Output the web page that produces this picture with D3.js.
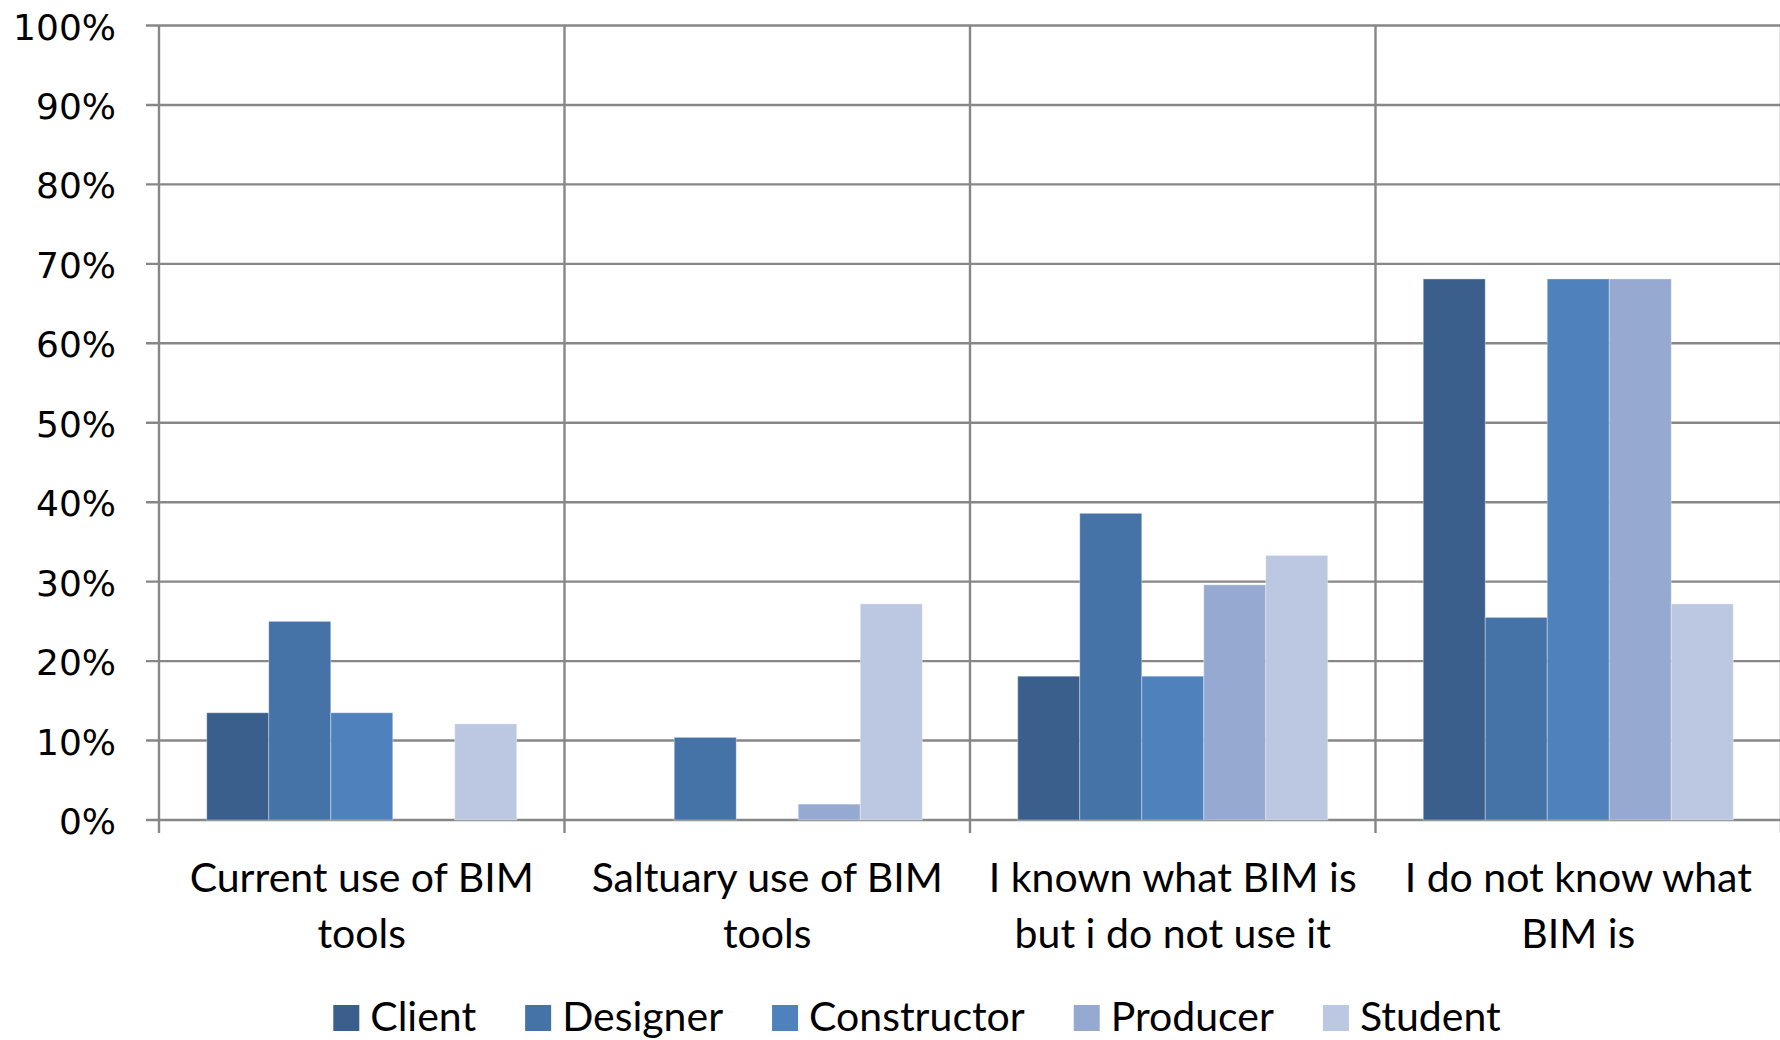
<!DOCTYPE html>
<html>
<head>
<meta charset="utf-8">
<script src="https://cdn.jsdelivr.net/npm/d3@7"></script>
<style>
  html, body { margin: 0; padding: 0; background: #fff; }
  svg { display: block; }
</style>
</head>
<body>
<svg id="chart" width="1780" height="1040"></svg>
<script>
// ---- data ----
const categories = [
  "Current use of BIM tools",
  "Saltuary use of BIM tools",
  "I known what BIM is but i do not use it",
  "I do not know what BIM is"
];
const categoryLines = [
  ["Current use of BIM", "tools"],
  ["Saltuary use of BIM", "tools"],
  ["I known what BIM is", "but i do not use it"],
  ["I do not know what", "BIM is"]
];
const series = ["Client", "Designer", "Constructor", "Producer", "Student"];
const client      = [13.5, 0,    18.1, 68.1];
const designer    = [25.0, 10.4, 38.6, 25.5];
const constructor_ = [13.5, 0,   18.1, 68.1];
const producer    = [0,    2.0,  29.6, 68.1];
const student     = [12.1, 27.2, 33.3, 27.2];
const yTicks = [0, 10, 20, 30, 40, 50, 60, 70, 80, 90, 100];
const colors = ["#3B5F8D", "#4572A7", "#4F81BD", "#95A9D1", "#BCC8E1"];

const values = [client, designer, constructor_, producer, student];

// ---- layout ----
const svg = d3.select("#chart");
const W = 1780, H = 1040;
svg.append("rect").attr("width", W).attr("height", H).attr("fill", "#fff");

const plotL = 159, plotR = 1781, plotT = 25.5, plotB = 820;
const gridColor = "#878787";
const labelFont = "Lato, 'Open Sans', sans-serif";

const x0 = d3.scaleBand().domain(categories).range([plotL, plotR]).paddingInner(0).paddingOuter(0);
const x1 = d3.scaleBand().domain(series).range([0, x0.bandwidth()]).paddingInner(0).paddingOuter(0.77);
const y = d3.scaleLinear().domain([0, 100]).range([plotB, plotT]);

const g = svg.append("g");

// horizontal gridlines (with small tick stubs left of axis)
g.selectAll("line.hgrid").data(yTicks).join("line")
  .attr("class", "hgrid")
  .attr("x1", plotL - 13).attr("x2", plotR)
  .attr("y1", d => y(d)).attr("y2", d => y(d))
  .attr("stroke", gridColor).attr("stroke-width", 2.4);

// vertical gridlines at category boundaries
const bounds = categories.map(c => x0(c)).concat([plotR]);
g.selectAll("line.vgrid").data(bounds).join("line")
  .attr("class", "vgrid")
  .attr("x1", d => d).attr("x2", d => d)
  .attr("y1", plotT).attr("y2", plotB + 13)
  .attr("stroke", gridColor).attr("stroke-width", 2.4);

// bars
const barData = [];
categories.forEach((c, ci) => {
  series.forEach((s, si) => {
    barData.push({ c, s, si, v: values[si][ci] });
  });
});
g.selectAll("rect.bar").data(barData.filter(d => d.v > 0)).join("rect")
  .attr("class", "bar")
  .attr("x", d => x0(d.c) + x1(d.s))
  .attr("y", d => y(d.v))
  .attr("width", x1.bandwidth())
  .attr("height", d => y(0) - y(d.v))
  .attr("fill", d => colors[d.si])
  .attr("stroke", "rgba(255,255,255,0.35)")
  .attr("stroke-width", 1);

// y tick labels
g.selectAll("text.ylab").data(yTicks).join("text")
  .attr("class", "ylab")
  .attr("x", 116)
  .attr("y", d => y(d) + 1.5)
  .attr("text-anchor", "end")
  .attr("dominant-baseline", "central")
  .attr("font-family", "'DejaVu Sans', sans-serif")
  .attr("font-size", 36)
  .attr("fill", "#000")
  .text(d => d + "%");

// category labels
categories.forEach((c, ci) => {
  const cx = x0(c) + x0.bandwidth() / 2;
  categoryLines[ci].forEach((line, li) => {
    g.append("text")
      .attr("x", cx)
      .attr("y", 892 + li * 55.5)
      .attr("text-anchor", "middle")
      .attr("font-family", labelFont)
      .attr("font-size", 41)
      .attr("fill", "#000")
      .text(line);
  });
});

// legend
const legend = svg.append("g");
const sq = 26, gapTxt = 11, spacing = 49;
let lx = 0;
series.forEach((s, i) => {
  const it = legend.append("g");
  it.append("rect").attr("x", 0).attr("y", 1005).attr("width", sq).attr("height", sq).attr("fill", colors[i]);
  const t = it.append("text")
    .attr("x", sq + gapTxt).attr("y", 1031)
    .attr("font-family", labelFont).attr("font-size", 41).attr("fill", "#000")
    .text(s);
  const w = sq + gapTxt + t.node().getComputedTextLength();
  it.attr("transform", `translate(${lx},0)`);
  lx += w + spacing;
});
const totalW = lx - spacing;
legend.attr("transform", `translate(${917 - totalW / 2},0)`);
</script>
</body>
</html>
